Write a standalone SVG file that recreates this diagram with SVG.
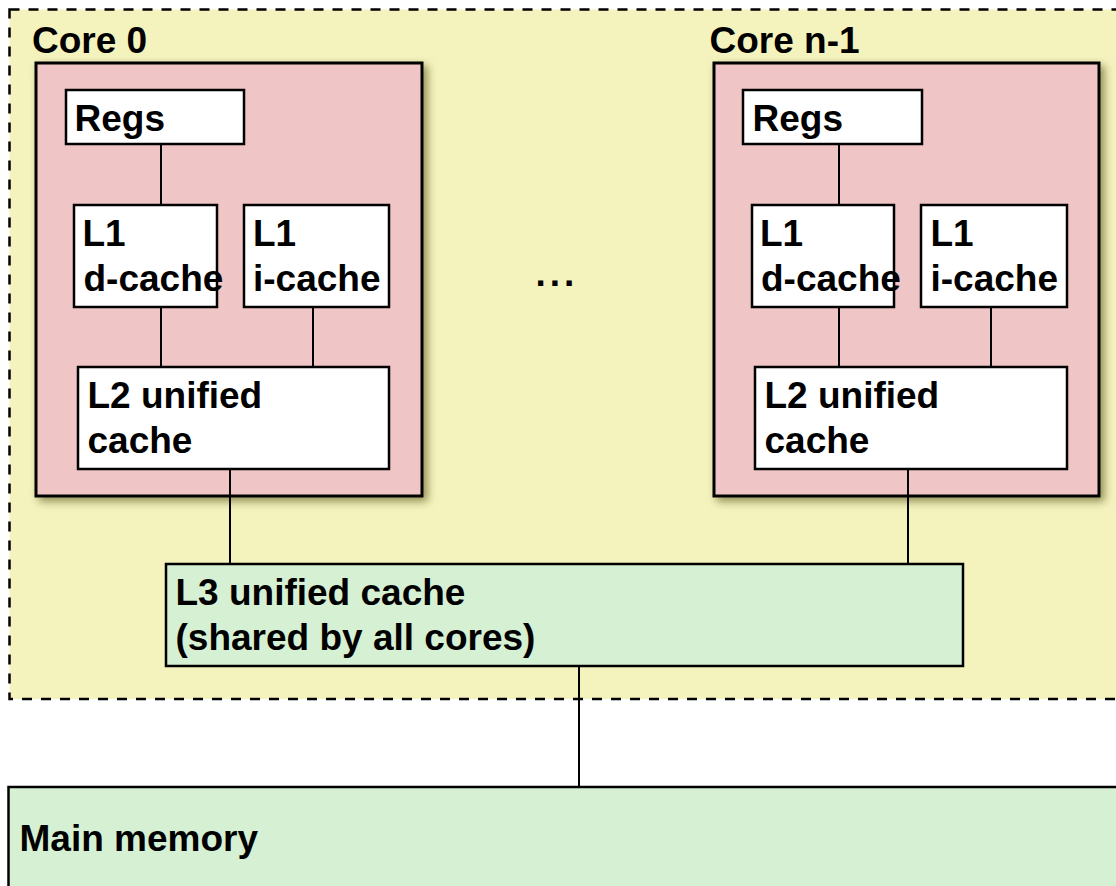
<svg xmlns="http://www.w3.org/2000/svg" width="1116" height="886" viewBox="0 0 1116 886">
<defs>
<filter id="sh" x="-10%" y="-10%" width="130%" height="130%">
<feDropShadow dx="4" dy="4" stdDeviation="4.5" flood-color="#3a3a00" flood-opacity="0.55"/>
</filter>
</defs>
<style>
text{font-family:"Liberation Sans",Arial,sans-serif;font-weight:bold;font-size:37px;fill:#000}
.chip{fill:#F5F3BD;stroke:#000;stroke-width:2.5;stroke-dasharray:10 9}
.core{fill:#F0C5C5;stroke:#000;stroke-width:3}
.box{fill:#fff;stroke:#000;stroke-width:2.5}
.green{fill:#D5F0D2;stroke:#000;stroke-width:2.5}
.conn line{stroke:#000;stroke-width:2}
</style>
<rect width="1116" height="886" fill="#fff"/>
<g id="chip">
<rect class="chip" x="9.5" y="9.5" width="1120" height="689.5"/>
</g>
<g id="core0">
<rect class="core" x="36" y="63" width="386" height="433" filter="url(#sh)"/>
<text x="32" y="53">Core 0</text>
</g>
<g id="coren1">
<rect class="core" x="714" y="63" width="385" height="433" filter="url(#sh)"/>
<text x="709.5" y="53">Core n-1</text>
</g>
<g id="connectors" class="conn">
<line x1="161" y1="144" x2="161" y2="205"/>
<line x1="161" y1="307" x2="161" y2="367"/>
<line x1="313" y1="307" x2="313" y2="367"/>
<line x1="230" y1="469" x2="230" y2="564"/>
<line x1="839" y1="144" x2="839" y2="205"/>
<line x1="839" y1="307" x2="839" y2="367"/>
<line x1="991" y1="307" x2="991" y2="367"/>
<line x1="908" y1="469" x2="908" y2="564"/>
<line x1="579" y1="666" x2="579" y2="787"/>
</g>
<g id="regs0">
<rect class="box" x="66" y="90" width="178" height="54"/>
<text x="74.5" y="131">Regs</text>
</g>
<g id="l1d0">
<rect class="box" x="74" y="205" width="143" height="102"/>
<text x="82.5" y="246">L1</text>
<text x="83.5" y="291">d-cache</text>
</g>
<g id="l1i0">
<rect class="box" x="244" y="205" width="145" height="102"/>
<text x="253" y="246">L1</text>
<text x="253" y="291">i-cache</text>
</g>
<g id="l20">
<rect class="box" x="78" y="367" width="311" height="102"/>
<text x="87.5" y="408">L2 unified</text>
<text x="87.5" y="453">cache</text>
</g>
<g id="regs1">
<rect class="box" x="743" y="90" width="179" height="54"/>
<text x="752.5" y="131">Regs</text>
</g>
<g id="l1d1">
<rect class="box" x="752" y="205" width="142" height="102"/>
<text x="760" y="246">L1</text>
<text x="761" y="291">d-cache</text>
</g>
<g id="l1i1">
<rect class="box" x="921" y="205" width="146" height="102"/>
<text x="930.5" y="246">L1</text>
<text x="930.5" y="291">i-cache</text>
</g>
<g id="l21">
<rect class="box" x="755" y="367" width="312" height="102"/>
<text x="764.5" y="408">L2 unified</text>
<text x="764.5" y="453">cache</text>
</g>
<g id="dots">
<text x="535.5" y="285.5" font-size="43" letter-spacing="4">...</text>
</g>
<g id="l3">
<rect class="green" x="166" y="564" width="797" height="102"/>
<text x="175.5" y="605">L3 unified cache</text>
<text x="175.5" y="650">(shared by all cores)</text>
</g>
<g id="mainmem">
<rect class="green" x="8.5" y="787" width="1120" height="110"/>
<text x="19.5" y="851">Main memory</text>
</g>
</svg>
